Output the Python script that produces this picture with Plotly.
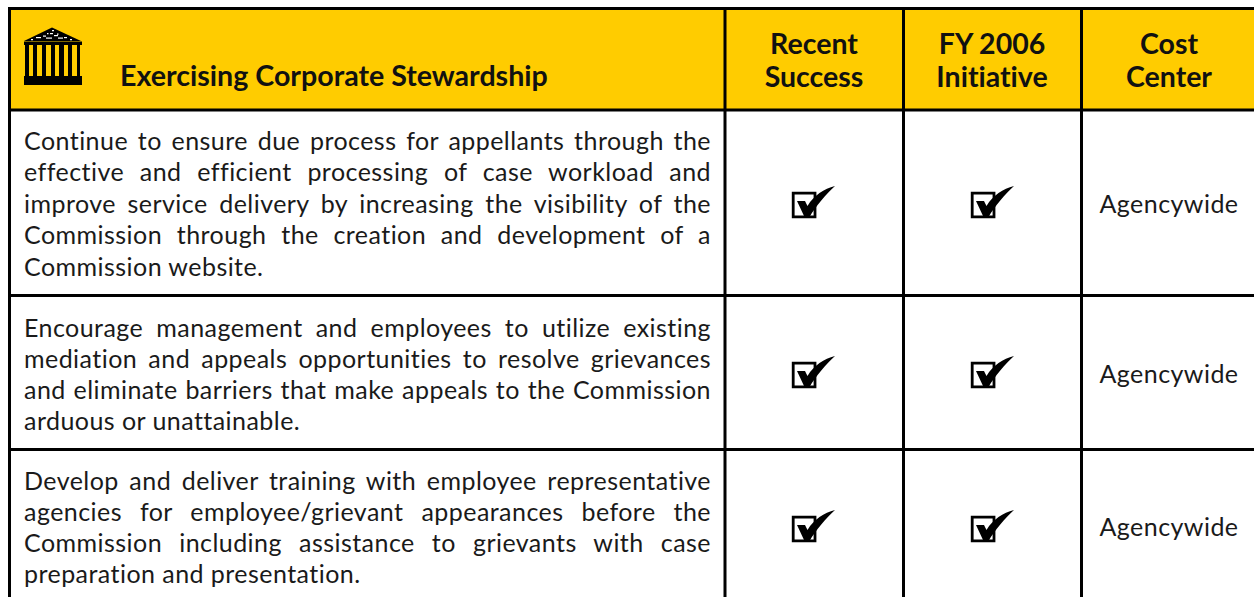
import json
import plotly.graph_objects as go

W, H = 1254, 597
FONT = "Lato"
YELLOW = "#FFCC00"

title = "Exercising Corporate Stewardship"
col_headers = [["Recent", "Success"], ["FY 2006", "Initiative"], ["Cost", "Center"]]
col_centers = [814, 992, 1169]
header_ys = [47, 80]

row_lines = [
    ["Continue to ensure due process for appellants through the",
     "effective and efficient processing of case workload and",
     "improve service delivery by increasing the visibility of the",
     "Commission through the creation and development of a",
     "Commission website."],
    ["Encourage management and employees to utilize existing",
     "mediation and appeals opportunities to resolve grievances",
     "and eliminate barriers that make appeals to the Commission",
     "arduous or unattainable."],
    ["Develop and deliver training with employee representative",
     "agencies for employee/grievant appearances before the",
     "Commission including assistance to grievants with case",
     "preparation and presentation."],
]
row_line_ys = [[144, 175, 207, 238, 270], [331, 362, 393, 424], [484, 515, 546, 577]]
cost_center = ["Agencywide", "Agencywide", "Agencywide"]
cost_ys = [206.5, 376.5, 529.5]
check_tops = [186, 356, 510]
check_lefts = [792, 971]

v_edges = [9.5, 725, 903.5, 1081.5]
h_edges = [8.5, 110, 295.5, 449.5]
TEXT_L, TEXT_R = 24, 711

fig = go.Figure()
shapes = []


def rect(x0, y0, x1, y1, fill, layer="below"):
    shapes.append(dict(type="rect", x0=x0, y0=y0, x1=x1, y1=y1, fillcolor=fill,
                       line=dict(width=0), layer=layer))


def path(d, fill="black"):
    shapes.append(dict(type="path", path=d, fillcolor=fill, line=dict(width=0), layer="above"))


rect(v_edges[0], h_edges[0], W + 5, h_edges[1], YELLOW)
for y in h_edges:
    shapes.append(dict(type="line", x0=v_edges[0] - 1.5, x1=W + 5, y0=y, y1=y,
                       line=dict(color="black", width=3)))
for x in v_edges:
    shapes.append(dict(type="line", x0=x, x1=x, y0=h_edges[0], y1=H + 5,
                       line=dict(color="black", width=3)))

# temple icon
path("M24,41 L52,27.5 L81,41 Z")
rect(24, 41.5, 82, 45, "black")
for sx0, sx1 in [(25, 29), (33, 37), (42, 46), (51, 55), (59, 64), (68, 72), (77, 80)]:
    rect(sx0, 45, sx1, 76, "black")
rect(24, 76, 82, 85, "black")
for px, py, pw in [(36, 37, 5), (43, 35.5, 3), (46, 37.5, 6), (50, 33, 3), (54, 35, 4), (58, 37.5, 5),
                   (64, 37, 3), (52, 30, 2), (31, 39, 2), (70, 39, 2), (47, 33, 1.5), (57, 33.5, 1.5)]:
    rect(px, py, px + pw, py + 1.2, "white", layer="above")
for top in check_tops:
    for left in check_lefts:
        bx, by = left, top + 6
        shapes.append(dict(type="rect", x0=bx + 1.2, y0=by + 1.2, x1=bx + 23, y1=by + 24.8,
                           fillcolor="white", line=dict(color="black", width=2.8), layer="above"))
        path(f"M{left+5},{top+15} L{left+13},{top+15} L{left+15.5},{top+20} "
             f"C{left+22},{top+9} {left+32},{top+3} {left+43},{top} "
             f"C{left+34},{top+8} {left+24},{top+20} {left+17.5},{top+31} L{left+12.5},{top+31} Z")

# left-anchored text
xs, ys, texts = [], [], []
justified = []
for lines, line_ys in zip(row_lines, row_line_ys):
    for i, (ln, y) in enumerate(zip(lines, line_ys)):
        xs.append(TEXT_L); ys.append(y); texts.append(ln)
        if i < len(lines) - 1:
            justified.append(ln)
body = texts + cost_center
fig.add_trace(go.Scatter(x=xs, y=ys, text=texts, mode="text", textposition="middle right",
                         textfont=dict(family=FONT, size=25, color="#1a1a1a"), hoverinfo="skip"))
fig.add_trace(go.Scatter(x=[120], y=[79], text=[title], mode="text", textposition="middle right",
                         textfont=dict(family=FONT, size=28.6, color="#111", weight="bold"), hoverinfo="skip"))
hx, hy, ht = [], [], []
for cx, pair in zip(col_centers, col_headers):
    for y, t in zip(header_ys, pair):
        hx.append(cx); hy.append(y); ht.append(t)
fig.add_trace(go.Scatter(x=hx, y=hy, text=ht, mode="text", textposition="middle center",
                         textfont=dict(family=FONT, size=28.5, color="#111", weight="bold"), hoverinfo="skip"))
fig.add_trace(go.Scatter(x=[col_centers[2]] * 3, y=cost_ys, text=cost_center, mode="text",
                         textposition="middle center",
                         textfont=dict(family=FONT, size=25, color="#1a1a1a"), hoverinfo="skip"))

fig.update_layout(width=W, height=H, margin=dict(l=0, r=0, t=0, b=0), showlegend=False,
                  paper_bgcolor="white", plot_bgcolor="white", shapes=shapes,
                  xaxis=dict(range=[0, W], visible=False, fixedrange=True),
                  yaxis=dict(range=[H, 0], visible=False, fixedrange=True))

post = """
document.documentElement.style.margin='0';
document.documentElement.style.overflow='hidden';
document.body.style.margin='0';
document.body.style.overflow='hidden';
var J=%s, B=%s, R=%d, L=%d;
document.querySelectorAll('.textpoint text').forEach(function(t){
  var s=t.textContent;
  t.style.fontVariantLigatures='none';
  if(B.indexOf(s)>=0){ t.style.letterSpacing='0.45px'; }
  if(J.indexOf(s)>=0){
    var n=s.split(' ').length-1, w=t.getComputedTextLength();
    t.style.wordSpacing=((R-L-w)/n)+'px';
  }
});
""" % (json.dumps(justified), json.dumps(body), TEXT_R, TEXT_L)
fig.write_html("out.html", post_script=post, config={"displayModeBar": False})
